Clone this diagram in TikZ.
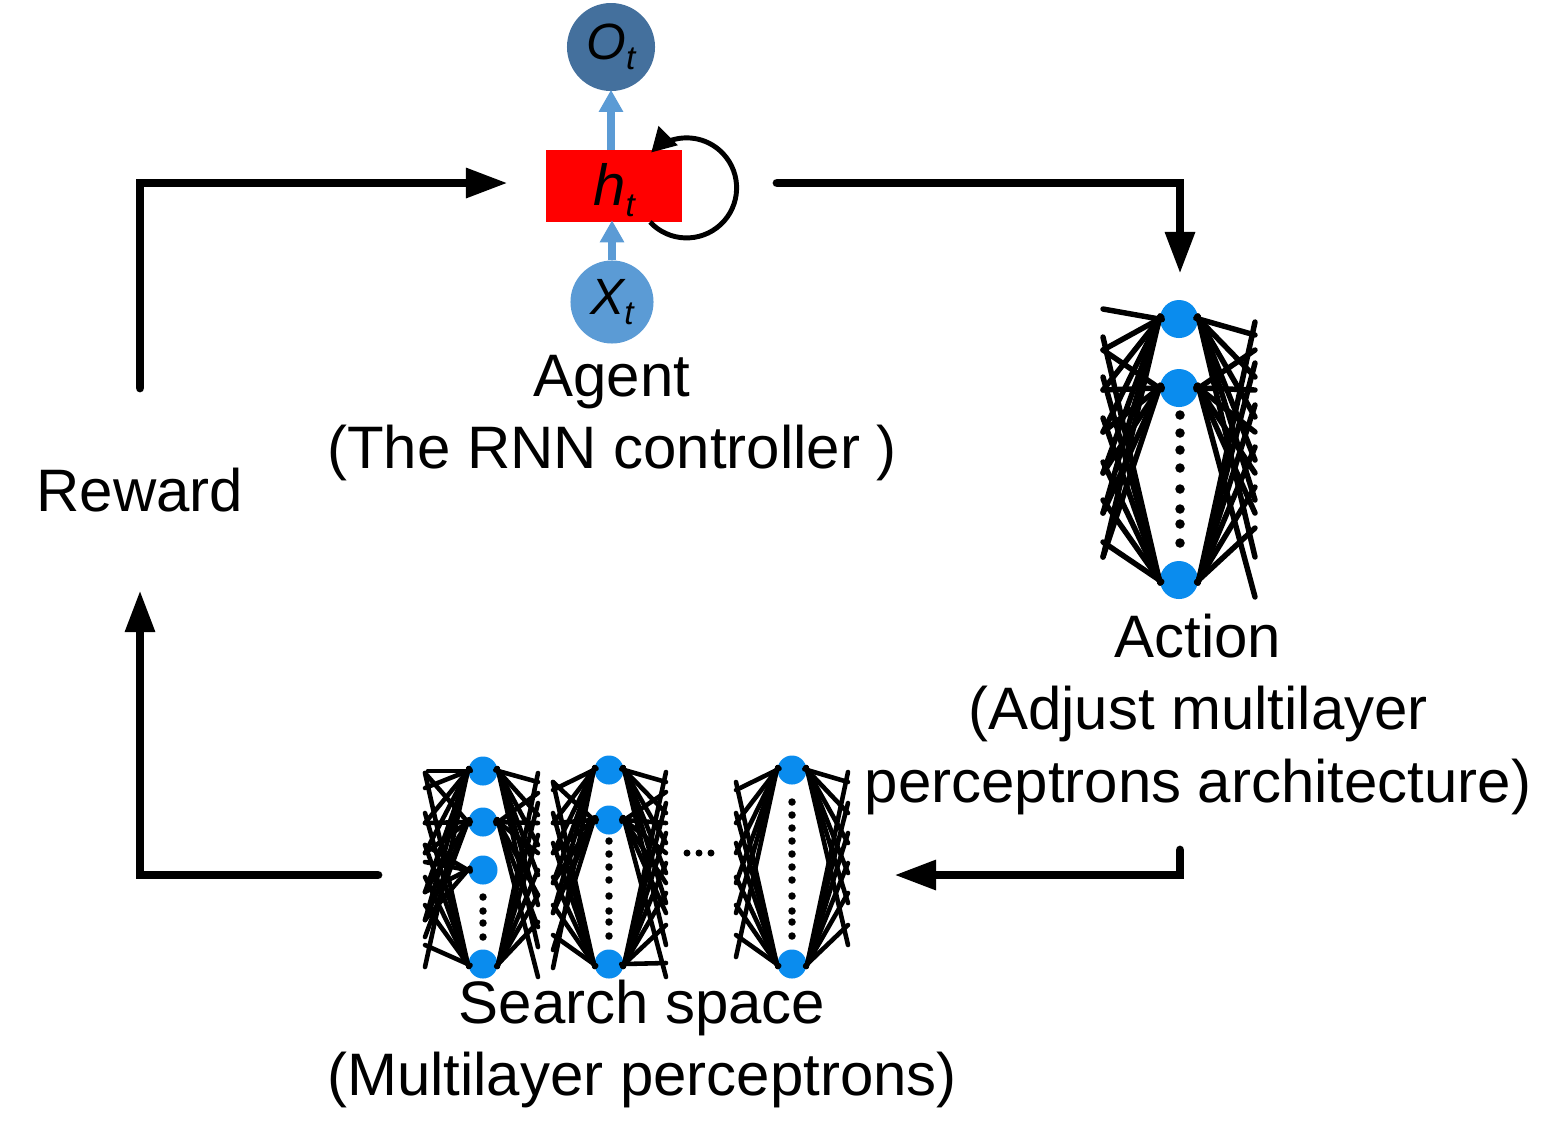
\documentclass[tikz,border=0pt]{standalone}
\usepackage{fontspec}
\setmainfont{Liberation Sans}
\usetikzlibrary{arrows.meta,positioning}
\definecolor{netblue}{HTML}{0A8CEE}
\definecolor{cellblue}{HTML}{5B9BD5}
\definecolor{outblue}{HTML}{44709D}
\newcommand{\subt}{\raisebox{-.35ex}{\fontsize{9.5}{9.5}\selectfont t}}
% one fan of lines from a hidden unit to the free ends at height y
\newcommand{\fan}[4]{\foreach \y in {#4} {
    \coordinate (#1-#3-\y) at (#3,\y);
    \draw[fanline] (#1.#2) -- (#1-#3-\y);}}
\newcommand{\dotcolumn}[2]{\foreach \y in {#2} {\node[dotmark] (dot-#1-\y) at (#1,\y) {};}}
\begin{document}
\begin{tikzpicture}[x=.01cm, y=-.01cm, >=Stealth,
    loopedge/.style={-{Triangle[length=.42cm,width=.28cm]}, line width=2.5pt, line join=miter},
    cellarrow/.style={-{Triangle[length=.22cm,width=.23cm]}, line width=2pt, cellblue, shorten >=-.02cm},
    textlabel/.style={font=\fontsize{17.05}{20.5}\selectfont, align=center, inner sep=0pt},
    statecircle/.style={circle, inner sep=0pt, font=\fontsize{14.5}{14.5}\selectfont\itshape},
    bigunit/.style={circle, fill=netblue, inner sep=0pt, minimum size=.38cm},
    smallunit/.style={circle, fill=netblue, inner sep=0pt, minimum size=.29cm},
    dotmark/.style={circle, fill=black, inner sep=0pt, minimum size=.075cm},
    fanline/.style={line width=1.3pt, line cap=round, shorten <=-.03cm}]
    \useasboundingbox (0,0) rectangle (1563,1138);
    % Agent cell
    \node[fill=red, minimum width=1.36cm, minimum height=.71cm, inner sep=0pt] (ht) at (614,186)
        {\fontsize{16.5}{16.5}\selectfont\itshape\rule{0pt}{.5cm}h\subt};
    \node[statecircle, fill=outblue, minimum size=.88cm, above=.58cm of ht, xshift=-.03cm] (ot) {O\subt};
    \node[statecircle, fill=cellblue, minimum size=.83cm, below=.375cm of ht, xshift=-.02cm] (xt) {X\subt};
    \draw[cellarrow] (ot.south |- ht.north) -- (ot.south);
    \draw[cellarrow] (xt.north) -- (xt.north |- ht.south);
    \coordinate (loopstart) at (650,222);
    \draw[-{Triangle[length=.24cm,width=.26cm]}, line width=1.4pt] (loopstart) arc[start angle=-137, end angle=135, radius=.5cm];
    \node[textlabel, below=.10cm of xt] (agentlabel) {Agent\\(The RNN controller )};
    \node[textlabel, anchor=base] (reward) at (140,511) {Reward};
    % Action network
    \begin{scope}[fanline/.append style={line width=1.55pt}, dotmark/.append style={minimum size=.095cm}]
    \node[bigunit] (act1) at (1179,319) {};
    \node[bigunit] (act2) at (1179,388) {};
    \node[bigunit] (act3) at (1179,580) {};
    \dotcolumn{1180}{415,433,450,468,489,509,524,543}
    \fan{act1}{west}{1103}{350,390,432,473,513,557}
    \coordinate (act1-top) at (1103,309);
    \draw[fanline] (act1.west) -- (act1-top);
    \fan{act2}{west}{1103}{350,390,432,473,513,557}
    \fan{act3}{west}{1103}{337,377,418,462,500,542}
    \fan{act1}{east}{1255}{335,377,417,460,500,557}
    \fan{act2}{east}{1255}{350,390,432,473,513,597}
    \fan{act3}{east}{1255}{322,363,405,447,487,528}
    \end{scope}
    \node[textlabel, below=.14cm of act3, xshift=.19cm] (actionlabel) {Action\\(Adjust multilayer\\perceptrons architecture)};
    % Search space, first network
    \node[smallunit] (one1) at (483,771) {};
    \node[smallunit] (one2) at (483,822) {};
    \node[smallunit] (one3) at (483,870) {};
    \node[smallunit] (one4) at (483,964) {};
    \dotcolumn{483}{897,911,923,937}
    \coordinate (one1-top) at (428,771);
    \draw[fanline] (one1.west) -- (one1-top);
    \fan{one1}{west}{425}{788,823,853,892,920,967}
    \fan{one2}{west}{425}{773,823,853,892,920,937}
    \fan{one3}{west}{425}{862,845,892,920}
    \fan{one4}{west}{425}{773,813,845,877,905,945}
    \fan{one1}{east}{538}{782,815,845,875,905,947}
    \fan{one2}{east}{538}{793,823,853,895,927,977}
    \fan{one4}{east}{538}{773,803,835,870,895,922}
    % Search space, second network
    \node[smallunit] (two1) at (609,770) {};
    \node[smallunit] (two2) at (609,820) {};
    \node[smallunit] (two3) at (609,964) {};
    \dotcolumn{609}{841,854,867,880,896,911,922,936}
    \fan{two1}{west}{553}{790,823,853,883,913,968}
    \fan{two2}{west}{553}{782,823,853,883,913,950}
    \fan{two3}{west}{553}{782,813,843,877,905,935}
    \fan{two1}{east}{666}{782,813,843,873,903,945}
    \fan{two2}{east}{666}{792,823,853,883,913,977}
    \fan{two3}{east}{666}{772,803,833,863,893,925,963}
    % Search space, last network
    \node[smallunit] (last1) at (792,770) {};
    \node[smallunit] (last2) at (792,964) {};
    \dotcolumn{792}{802,815,828,841,854,867,880,896,911,922,936}
    \fan{last1}{west}{736}{790,823,853,883,913,957}
    \fan{last2}{west}{736}{782,813,843,877,905,935}
    \fan{last1}{east}{848}{782,813,843,873,903,945}
    \fan{last2}{east}{848}{772,803,833,863,893,925}
    % Dots between the networks
    \foreach \x in {687,699,711} {\node[dotmark, minimum size=.07cm] (gap\x) at (\x,853) {};}
    \node[textlabel, anchor=north] (searchlabel) at (642,979) {Search space\\(Multilayer perceptrons)};
    % Free ends of the loop arrows
    \coordinate (rewardout) at (140,388);
    \coordinate (agentin) at (508,183);
    \coordinate (agentout) at (777,183);
    \coordinate (actionin) at (1180,274);
    \coordinate (actionout) at (1180,850);
    \coordinate (searchin) at (894,875);
    \coordinate (searchout) at (378,875);
    \coordinate (rewardin) at (140,590);
    % Arrows of the loop
    \draw[loopedge, line cap=round] (rewardout) |- (agentin);
    \draw[loopedge, line cap=round] (agentout) -| (actionin);
    \draw[loopedge, line cap=round] (actionout) |- (searchin);
    \draw[loopedge, line cap=round] (searchout) -| (rewardin);
\end{tikzpicture}
\end{document}
